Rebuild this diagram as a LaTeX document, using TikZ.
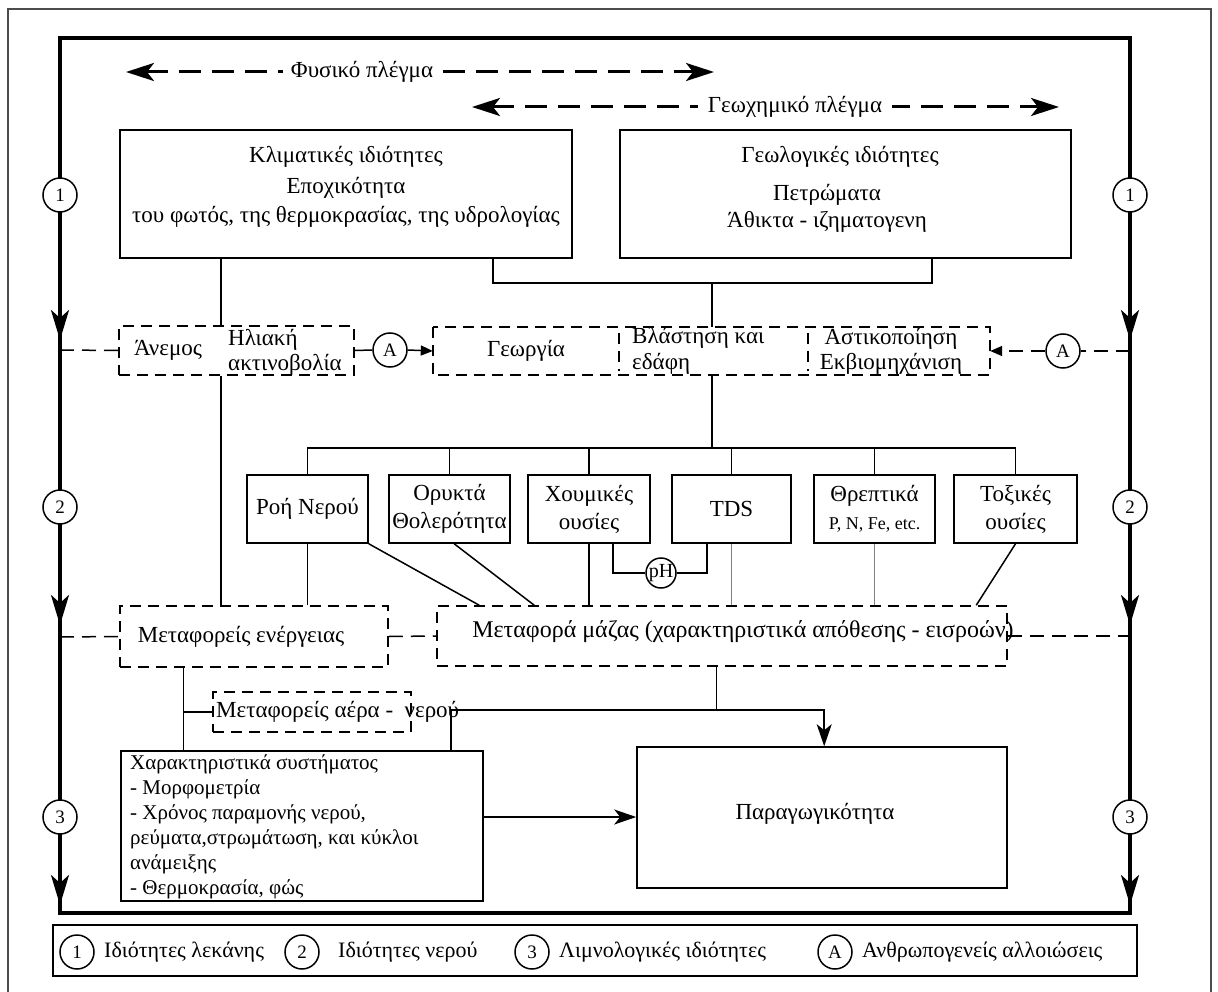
\documentclass[tikz,border=0pt]{standalone}
\usepackage{fontspec}
\setmainfont{Liberation Serif}
\usetikzlibrary{arrows.meta,calc}
\newcommand\fsz[2]{\fontsize{#1}{#2}\selectfont}
\begin{document}
\begin{tikzpicture}[x=1pt,y=-1pt,
  box/.style={draw,line width=1.6pt,inner sep=0pt},
  dline/.style={line width=1.5pt,dash pattern=on 11pt off 7pt},
  dbox/.style={draw,dline,inner sep=0pt},
  sbox/.style={draw,line width=1.6pt,inner sep=0pt,minimum width=121pt,minimum height=68pt,align=center,font=\fsz{23}{28}},
  frame/.style={line width=3.2pt},
  txt/.style={font=\fsz{23}{28},inner sep=0pt,align=center},
  circ/.style={circle,draw,line width=1.5pt,fill=white,minimum size=34pt,inner sep=0pt,font=\fsz{19}{20}},
  conn/.style={line width=1.5pt},
  gconn/.style={line width=1.2pt,gray},
  dconn/.style={line width=1.5pt,dash pattern=on 14pt off 8pt},
  bigdash/.style={line width=3pt,dash pattern=on 22pt off 11pt},
  tip/.style={-{Stealth[length=30pt,width=18pt,inset=8pt]}},
  sm/.style={-{Triangle[length=12pt,width=10pt]}},
  ar/.style={-{Stealth[length=22pt,width=15pt,inset=6pt]}},
]
\useasboundingbox (0,0) rectangle (1218,992);
\fill[white] (0,0) rectangle (1218,992);
% outer thin frame
\draw[line width=1.5pt,black!70] (8,995) -- (8,9) -- (1211,9) -- (1211,995);
% thick frame
\draw[frame] (60,38) rectangle (1130,913);
\foreach \yy in {340,625,905}{
  \draw[frame,tip] (60,\yy-40) -- (60,\yy);
  \draw[frame,tip] (1130,\yy-40) -- (1130,\yy);
}
\node[circ] (L1) at (60,195) {1};
\node[circ] (L2) at (60,507) {2};
\node[circ] (L3) at (60,817) {3};
\node[circ] (R1) at (1130,195) {1};
\node[circ] (R2) at (1130,507) {2};
\node[circ] (R3) at (1130,817) {3};
\coordinate (FL1) at (60,350);
\coordinate (FR1) at (1130,351);
\coordinate (FL2) at (60,637);
\coordinate (FR2) at (1130,636);

% top dashed arrows
\coordinate (fyL) at (126,72);
\coordinate (fyR) at (714,72);
\draw[bigdash,{Stealth[length=28pt,width=18pt,inset=7pt]}-{Stealth[length=28pt,width=18pt,inset=7pt]}] (fyL) -- (fyR);
\node[txt,fill=white,inner xsep=8pt,inner ysep=3pt] (fy) at (362,72) {Φυσικό πλέγμα};
\coordinate (geL) at (472,107);
\coordinate (geR) at (1059,107);
\draw[bigdash,{Stealth[length=28pt,width=18pt,inset=7pt]}-{Stealth[length=28pt,width=18pt,inset=7pt]}] (geL) -- (geR);
\node[txt,fill=white,inner xsep=10pt,inner ysep=3pt] (ge) at (795,107) {Γεωχημικό πλέγμα};

% top boxes
\node[box,minimum width=452pt,minimum height=128pt] (clim) at (346,194) {};
\node[txt] (climT) at (346,157) {Κλιματικές ιδιότητες};
\node[txt,font=\fsz{23}{29}] (climS) at (346,202) {Εποχικότητα\\του φωτός, της θερμοκρασίας, της υδρολογίας};
\node[box,minimum width=451pt,minimum height=128pt] (geo) at (845.5,194) {};
\node[txt] (geoT) at (840,157) {Γεωλογικές ιδιότητες};
\node[txt,font=\fsz{23}{27}] (geoS) at (827,208) {Πετρώματα\\Άθικτα - ιζηματογενη};

% middle dashed row
\node[dbox,minimum width=235pt,minimum height=49pt] (anemos) at (236.5,350.5) {};
\node[txt] (anemosT) at (168,350) {Άνεμος};
\node[txt,align=left,anchor=west,font=\fsz{23}{25}] (ilT) at (228,352) {Ηλιακή\\ακτινοβολία};
\node[minimum width=186pt,minimum height=48pt,inner sep=0pt,font=\fsz{23}{27}] (georg) at (526,351) {Γεωργία};
\node[minimum width=189pt,minimum height=48pt,inner sep=0pt] (vlast) at (713.5,351) {};
\node[txt,align=left,anchor=west,font=\fsz{23}{26}] (vlastT) at (632,351) {Βλάστηση και\\εδάφη};
\node[minimum width=182pt,minimum height=48pt,inner sep=0pt] (astik) at (899,351) {};
\node[txt,font=\fsz{23}{25}] (astikT) at (891,351) {Αστικοποίηση\\Εκβιομηχάνιση};
\draw[dline] (georg.north west) rectangle (astik.south east);
\draw[dline] ($(vlast.north west)+(0,6)$) -- ($(vlast.south west)+(0,-4)$);
\draw[dline] ($(astik.north west)+(0,6)$) -- ($(astik.south west)+(0,-4)$);
\node[circ] (Aleft) at (390,350) {A};
\node[circ] (Aright) at (1063,351) {A};
\draw[conn] (anemos.east) -- (Aleft.west);
\draw[conn,sm] (Aleft.east) -- (georg.west);
\draw[dconn] (FR1) -- (Aright.east);
\draw[dconn,sm] (Aright.west) -- (astik.east);
\draw[dconn] (FL1) -- (anemos.west);

% connectors from top boxes
\coordinate (busTop) at (712,283);
\draw[conn] ($(clim.south west)+(374,0)$) |- (busTop) -| ($(geo.south west)+(313,0)$);
\draw[conn] (busTop) -- (busTop |- vlast.north);
\coordinate (c1) at ($(clim.south west)+(102,0)$);
\draw[conn] (c1) -- (c1 |- anemos.north);

% small boxes
\node[sbox] (roi) at (307.5,509) {Ροή Νερού};
\node[sbox] (oryk) at (449.5,509) {Ορυκτά\\Θολερότητα};
\node[sbox,minimum width=122pt] (xoum) at (589,509) {Χουμικές\\ουσίες};
\node[sbox,minimum width=119pt] (tds) at (731.5,509) {TDS};
\node[sbox] (threp) at (874.5,509) {Θρεπτικά\\{\fsz{18}{20}P, N, Fe, etc.}};
\node[sbox,minimum width=123pt] (tox) at (1015.5,509) {Τοξικές\\ουσίες};
\coordinate (bus) at (712,448);
\draw[conn] (bus |- vlast.south) -- (bus);
\draw[conn] (roi.north) |- (bus) -| (tox.north);
\foreach \n in {oryk,xoum,tds,threp} \draw[conn] (\n.north) -- (\n.north |- bus);

% pH
\node[circ,minimum size=30pt,font=\fsz{20}{20}] (ph) at (661,573) {pH};
\draw[conn] ($(xoum.south west)+(86,0)$) |- (ph.west);
\draw[conn] (ph.east) -| ($(tds.south west)+(36,0)$);

% lower dashed boxes
\node[dbox,minimum width=268pt,minimum height=61pt] (energy) at (254,636.5) {};
\node[txt] (energyT) at (241,637) {Μεταφορείς ενέργειας};
\node[dbox,minimum width=570pt,minimum height=60pt] (mass) at (722,636) {};
\node[txt,font=\fsz{24}{28}] (massT) at (743,632) {Μεταφορά μάζας (χαρακτηριστικά απόθεσης - εισροών)};

\draw[conn] (c1 |- anemos.south) -- (c1 |- energy.north);
\draw[conn] (roi.south) -- (roi.south |- energy.north);
\draw[conn] (roi.south east) -- ($(mass.north west)+(43,0)$);
\draw[conn] ($(oryk.south west)+(66,0)$) -- ($(mass.north west)+(98,0)$);
\draw[conn] (xoum.south) -- (xoum.south |- mass.north);
\draw[gconn] (tds.south) -- (tds.south |- mass.north);
\draw[gconn] (threp.south) -- (threp.south |- mass.north);
\draw[conn] (tox.south) -- ($(mass.north west)+(540,0)$);

\draw[dconn] (FL2) -- (energy.west);
\draw[dconn] (energy.east) -- (mass.west);
\draw[dconn] (mass.east) -- (FR2);

% air-water
\node[dbox,minimum width=198pt,minimum height=40pt] (air) at (312,712) {};
\node[txt,anchor=west] (airT) at (216,712) {Μεταφορείς αέρα - \ νερού};

% system characteristics
\node[box,minimum width=362pt,minimum height=150pt] (char) at (302,826) {};
\node[txt,align=left,anchor=north west,font=\fsz{21}{25}] (charT) at (130,754) {Χαρακτηριστικά συστήματος\\- Μορφομετρία\\- Χρόνος παραμονής νερού,\\ρεύματα,στρωμάτωση, και κύκλοι\\ανάμειξης\\- Θερμοκρασία, φώς};

% productivity
\node[box,minimum width=370pt,minimum height=141pt] (prod) at (822,817.5) {};
\node[txt] (prodT) at (815,814) {Παραγωγικότητα};

\coordinate (e1) at ($(energy.south west)+(64,0)$);
\draw[conn] (e1) -- (e1 |- char.north);
\draw[conn] (e1 |- air.west) -- (air.west);
\coordinate (j1) at ($(char.north west)+(331,-40)$);
\coordinate (p1) at ($(prod.north west)+(188,0)$);
\draw[conn,ar] ($(char.north west)+(331,0)$) -- (j1) -| (p1);
\coordinate (m1) at ($(mass.south west)+(280,0)$);
\draw[conn] (m1) -- (m1 |- j1);
\coordinate (c2) at ($(char.east)+(0,-9)$);
\draw[conn,ar] (c2) -- (c2 -| prod.west);

% legend
\node[box,minimum width=1084pt,minimum height=51pt] (legend) at (595,950.5) {};
\node[circ] (lg1) at (77,952) {1};
\node[txt,anchor=west,font=\fsz{22}{26}] (lg1T) at (104,952) {Ιδιότητες λεκάνης};
\node[circ] (lg2) at (302,952) {2};
\node[txt,anchor=west,font=\fsz{22}{26}] (lg2T) at (338,952) {Ιδιότητες νερού};
\node[circ] (lg3) at (532,952) {3};
\node[txt,anchor=west,font=\fsz{22}{26}] (lg3T) at (559,952) {Λιμνολογικές ιδιότητες};
\node[circ] (lgA) at (835,952) {A};
\node[txt,anchor=west,font=\fsz{22}{26}] (lgAT) at (862,952) {Ανθρωπογενείς αλλοιώσεις};
\end{tikzpicture}
\end{document}
